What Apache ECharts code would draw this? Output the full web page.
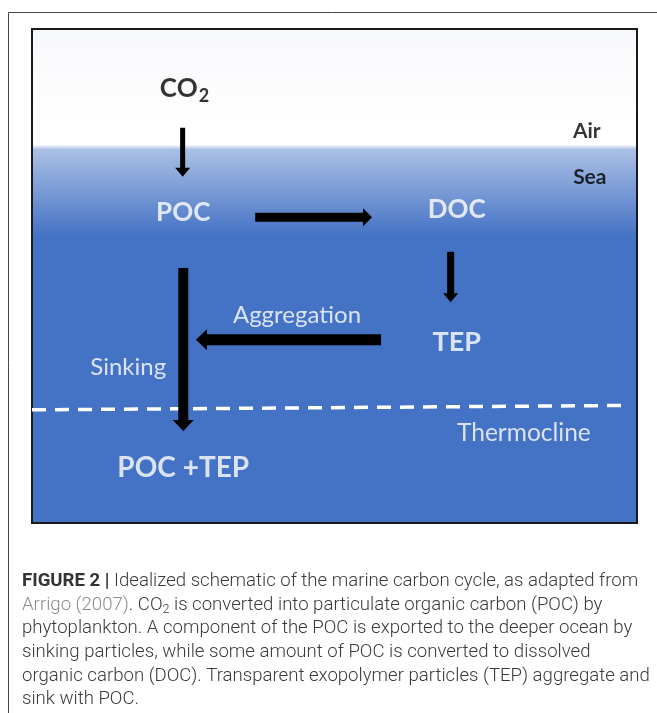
<!DOCTYPE html>
<html>
<head>
<meta charset="utf-8">
<script src="https://cdn.jsdelivr.net/npm/echarts@6/dist/echarts.min.js"></script>
<style>
html,body{margin:0;padding:0;background:#fff;}
#main{width:657px;height:713px;}
</style>
</head>
<body>
<div id="main"></div>
<script>
// ---- data (schematic units: x 0-100 left->right, y 0-100 top->bottom) ----
const labelNames = ['CO2', 'Air', 'Sea', 'POC', 'DOC', 'Aggregation', 'TEP', 'Sinking', 'Thermocline', 'POC +TEP'];
const labelX = [25.2, 91.7, 92.2, 25.0, 70.2, 43.8, 70.2, 15.9, 81.3, 25.0];
const labelY = [12.0, 20.6, 30.0, 37.2, 36.6, 57.9, 63.4, 68.4, 81.8, 88.9];

const arrowNames = ['CO2→POC', 'POC→DOC', 'DOC→TEP', 'TEP→POC', 'Sinking'];
const arrowStart = [[24.9, 20.0], [36.9, 38.1], [69.2, 45.1], [57.7, 62.9], [25.0, 48.4]];
const arrowEnd   = [[24.9, 29.9], [56.2, 38.1], [69.2, 55.3], [27.1, 62.9], [25.0, 81.4]];

const thermoclineLine = [[0, 77.1], [98.8, 76.2]];

const captionLines = [
  '{b|FIGURE 2 |} Idealized schematic of the marine carbon cycle, as adapted from',
  '{g|Arrigo (2007)}. CO{s|2} is converted into particulate organic carbon (POC) by',
  'phytoplankton. A component of the POC is exported to the deeper ocean by',
  'sinking particles, while some amount of POC is converted to dissolved',
  'organic carbon (DOC). Transparent exopolymer particles (TEP) aggregate and',
  'sink with POC.'
];

// ---- styles ----
const labelStyle = {
  'CO2':         {color: '#000', bold: true,  size: 26},
  'Air':         {color: '#000', bold: true,  size: 21},
  'Sea':         {color: '#000', bold: true,  size: 21},
  'POC':         {color: '#fff', bold: true,  size: 26},
  'DOC':         {color: '#fff', bold: true,  size: 26},
  'Aggregation': {color: '#fff', bold: false, size: 24},
  'TEP':         {color: '#fff', bold: true,  size: 27},
  'Sinking':     {color: '#fff', bold: false, size: 24},
  'Thermocline': {color: '#fff', bold: false, size: 24.5},
  'POC +TEP':    {color: '#fff', bold: true,  size: 28}
};
// shaft half-width, head half-width, head length (px)
const arrowShape = [[2.5, 7.5, 9], [4.5, 9, 9], [3.5, 7.5, 9], [5.5, 10.5, 11], [5, 10.5, 11]];

const FONT = 'Lato, "Open Sans", sans-serif';
const CAP_FONT = 'Roboto, sans-serif';
const CAP_SIZE = 18.6;

const chart = echarts.init(document.getElementById('main'));

const labelData = labelNames.map((n, i) => {
  const st = labelStyle[n];
  const item = {
    name: n,
    value: [labelX[i], labelY[i]],
    label: {
      show: true, position: 'inside',
      color: st.color, fontSize: st.size, fontWeight: st.bold ? 'bold' : 'normal',
      fontFamily: FONT
    }
  };
  if (n === 'CO2') {
    item.label.formatter = '{a|CO}{s|2}';
    item.label.rich = {
      a: {fontSize: 26, fontWeight: 'bold', color: '#000', fontFamily: FONT, lineHeight: 30, verticalAlign: 'middle'},
      s: {fontSize: 18, fontWeight: 'bold', color: '#000', fontFamily: FONT, padding: [16, 0, 0, 1], verticalAlign: 'middle'}
    };
  } else {
    item.label.formatter = '{b}';
  }
  return item;
});

const arrowData = arrowNames.map((n, i) => ({
  name: n,
  value: [arrowStart[i][0], arrowStart[i][1], arrowEnd[i][0], arrowEnd[i][1], i]
}));

function renderArrow(params, api) {
  const p1 = api.coord([api.value(0), api.value(1)]);
  const p2 = api.coord([api.value(2), api.value(3)]);
  const k = api.value(4);
  const [s, h, L] = arrowShape[k];
  const dx = p2[0] - p1[0], dy = p2[1] - p1[1];
  const len = Math.sqrt(dx * dx + dy * dy);
  const ux = dx / len, uy = dy / len;
  const nx = -uy, ny = ux;
  const bx = p2[0] - ux * L, by = p2[1] - uy * L;
  const pts = [
    [p1[0] + nx * s, p1[1] + ny * s],
    [bx + nx * s, by + ny * s],
    [bx + nx * h, by + ny * h],
    [p2[0], p2[1]],
    [bx - nx * h, by - ny * h],
    [bx - nx * s, by - ny * s],
    [p1[0] - nx * s, p1[1] - ny * s]
  ];
  return {type: 'polygon', shape: {points: pts}, style: {fill: '#000'}};
}

const bg = new echarts.graphic.LinearGradient(0, 0, 0, 1, [
  {offset: 0, color: '#f7f8fb'},
  {offset: 0.2, color: '#ffffff'},
  {offset: 0.235, color: '#ffffff'},
  {offset: 0.245, color: '#abc0e5'},
  {offset: 0.42, color: '#4472c4'},
  {offset: 1, color: '#4472c4'}
]);

const captionGraphics = captionLines.map((t, i) => ({
  type: 'text',
  left: 22,
  top: 572 + i * 23.6,
  style: {
    text: t,
    fontFamily: CAP_FONT,
    fontWeight: 300,
    fontSize: CAP_SIZE,
    fill: '#3a3a3a',
    rich: {
      b: {fontFamily: CAP_FONT, fontWeight: 'bold', fontSize: CAP_SIZE, fill: '#333'},
      g: {fontFamily: CAP_FONT, fontWeight: 300, fontSize: CAP_SIZE, fill: '#8c8c8c'},
      s: {fontFamily: CAP_FONT, fontWeight: 300, fontSize: 12.5, fill: '#3a3a3a', padding: [9, 0, 0, 0]}
    }
  }
}));

chart.setOption({
  animation: false,
  grid: {
    left: 32, top: 29, width: 605, height: 494,
    show: true, backgroundColor: bg, borderColor: '#1a1a1a', borderWidth: 2
  },
  xAxis: {type: 'value', min: 0, max: 100, show: false},
  yAxis: {type: 'value', min: 0, max: 100, inverse: true, show: false},
  graphic: [
    {type: 'polyline', shape: {points: [[8.5, 713], [8.5, 12.5], [657, 12.5]]}, style: {stroke: '#444', lineWidth: 1, fill: null}}
  ].concat(captionGraphics),
  series: [
    {
      type: 'line', name: 'Thermocline', data: thermoclineLine, symbol: 'none',
      lineStyle: {color: '#fff', width: 3.5, type: [14, 9]}, z: 2, silent: true
    },
    {
      type: 'custom', name: 'arrows', renderItem: renderArrow, data: arrowData,
      encode: {x: [0, 2], y: [1, 3]}, z: 3, silent: true
    },
    {
      type: 'scatter', name: 'labels', data: labelData, symbolSize: 0, z: 4, silent: true
    }
  ]
});
</script>
</body>
</html>
